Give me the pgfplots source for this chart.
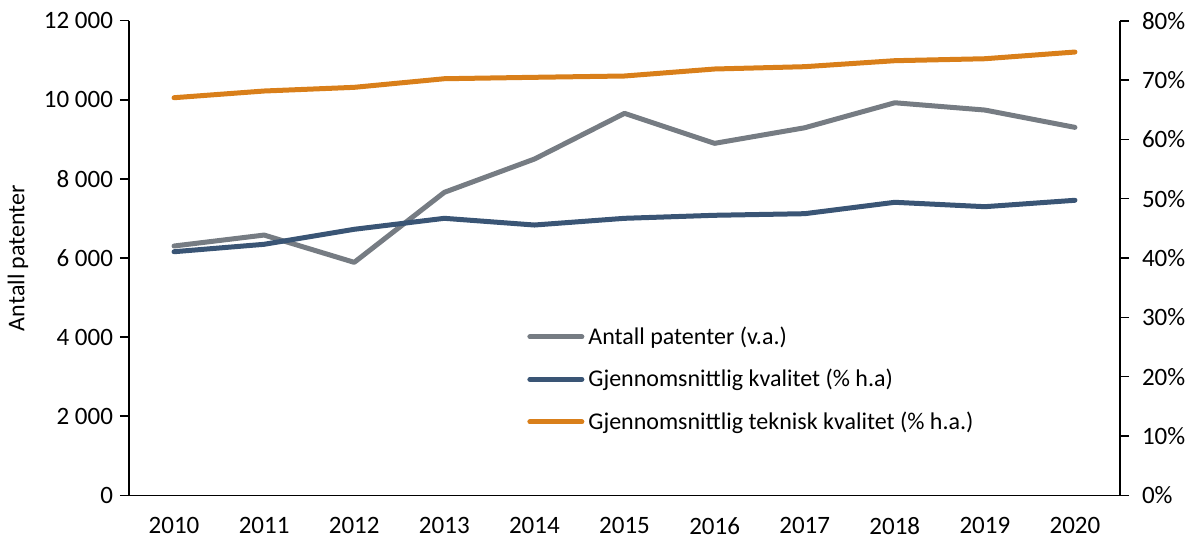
\documentclass[border=0pt]{standalone}
\usepackage{pgfplots}
\pgfplotsset{compat=1.18}
\usepackage{pgfplotstable}
\usepackage{fontspec}
\setmainfont{Carlito}

\definecolor{patgray}{RGB}{118,124,131}
\definecolor{kvalblue}{RGB}{58,85,117}
\definecolor{tekorange}{RGB}{217,127,26}

% year index, number of patents (left axis), average quality and average technical quality in % (right axis)
\pgfplotstableread{
idx pat  kval  tek
0   6303 41.06 67.02
1   6580 42.31 68.15
2   5890 44.84 68.77
3   7660 46.69 70.22
4   8502 45.56 70.46
5   9657 46.69 70.68
6   8899 47.20 71.86
7   9293 47.47 72.25
8   9925 49.39 73.26
9   9741 48.65 73.59
10  9303 49.73 74.72
}\patdata

\pgfplotsset{
  common/.style={
    at={(0,0)}, anchor=south west,
    scale only axis, width=495.5pt, height=237.3pt,
    xmin=-0.5, xmax=10.5,
    scaled y ticks=false,
    axis line style={black, line width=0.8pt},
    tick style={black, line width=0.8pt},
    tick align=outside, major tick length=4.5pt,
    every tick label/.append style={font=\fontsize{12.5}{15}\selectfont, text=black},
    clip=false,
  },
}

\begin{document}
\begin{tikzpicture}
\path[use as bounding box] (-64.5pt,-22.85pt) rectangle (533pt,247.65pt);

% left axis: number of patents
\begin{axis}[common,
  axis y line*=left, axis x line*=bottom,
  ymin=0, ymax=12000,
  xtick={0,...,10},
  xticklabels={2010,2011,2012,2013,2014,2015,2016,2017,2018,2019,2020},
  x tick style={draw=none},
  xticklabel style={yshift=-3pt},
  ytick={0,2000,4000,6000,8000,10000,12000},
  yticklabels={0,2 000,4 000,6 000,8 000,10 000,12 000},
  ylabel={Antall patenter},
  ylabel style={font=\fontsize{12}{14.4}\selectfont, at={(axis description cs:-0.112,0.5)}, anchor=center},
]
\addplot[patgray, line width=2.5pt, line join=round, line cap=round] table[x=idx, y=pat] {\patdata};
\end{axis}

% right axis: quality shares
\begin{axis}[common,
  axis y line*=right, axis x line=none,
  ymin=0, ymax=80,
  ytick={0,10,...,80},
  yticklabels={0\%,10\%,20\%,30\%,40\%,50\%,60\%,70\%,80\%},
  yticklabel style={xshift=3pt},
  legend style={at={(0.4016,0.365)}, anchor=north west, draw=none, fill=none,
    inner sep=0pt, row sep=7pt, font=\fontsize{12}{14.4}\selectfont,
    cells={anchor=west}},
  legend image code/.code={\draw[#1, line cap=round] (0pt,0pt) -- (26pt,0pt);},
]
\addlegendimage{patgray, line width=2.5pt}
\addlegendentry{Antall patenter (v.a.)}
\addplot[kvalblue, line width=2.5pt, line join=round, line cap=round] table[x=idx, y=kval] {\patdata};
\addlegendentry{Gjennomsnittlig kvalitet (\% h.a)}
\addplot[tekorange, line width=2.5pt, line join=round, line cap=round] table[x=idx, y=tek] {\patdata};
\addlegendentry{Gjennomsnittlig teknisk kvalitet (\% h.a.)}
\end{axis}
\end{tikzpicture}
\end{document}
